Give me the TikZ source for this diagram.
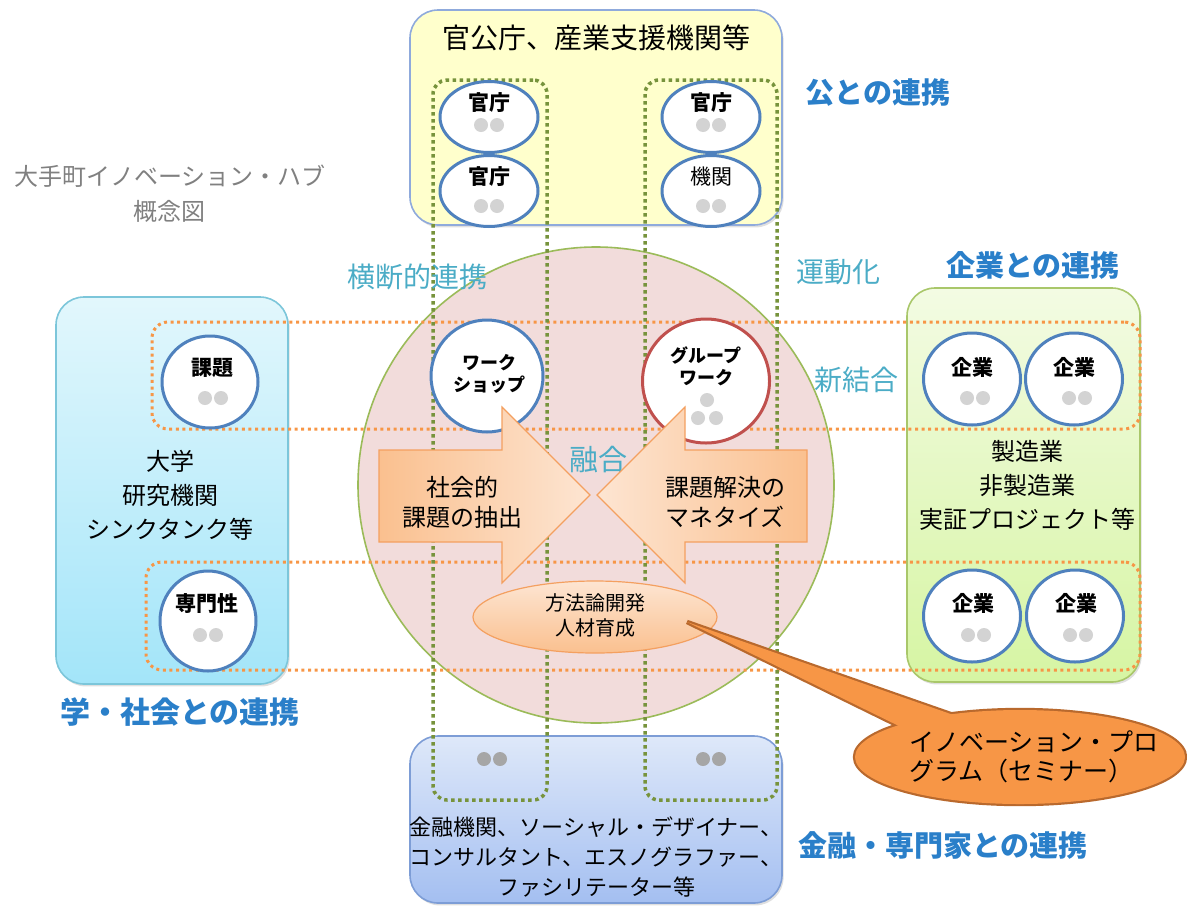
\documentclass[tikz,border=0pt]{standalone}
\usepackage{fontspec}
\setmainfont{Noto Sans CJK JP}
\usetikzlibrary{shapes.geometric,shadows}
\definecolor{topfill}{HTML}{FFFFCC}
\definecolor{topborder}{HTML}{8FAADC}
\definecolor{lefttop}{HTML}{E2F7FC}
\definecolor{leftbot}{HTML}{A3E5F9}
\definecolor{leftborder}{HTML}{7CC6DA}
\definecolor{righttop}{HTML}{F3FBE3}
\definecolor{rightbot}{HTML}{D6F5A3}
\definecolor{rightborder}{HTML}{A9C76A}
\definecolor{bottop}{HTML}{DEE8F9}
\definecolor{botbot}{HTML}{A4BFF1}
\definecolor{botborder}{HTML}{7D9DD6}
\definecolor{hubfill}{HTML}{F2DCDB}
\definecolor{hubborder}{HTML}{9BBB59}
\definecolor{dotgreen}{HTML}{77933C}
\definecolor{dotorange}{HTML}{F79646}
\definecolor{memberblue}{HTML}{4F81BD}
\definecolor{memberred}{HTML}{C0504D}
\definecolor{dotgrey}{HTML}{D3D3D3}
\definecolor{dotdark}{HTML}{A6A6A6}
\definecolor{labelblue}{HTML}{2A7FC9}
\definecolor{labelteal}{HTML}{4BACC6}
\definecolor{titlegrey}{HTML}{808080}
\definecolor{arrowdark}{HTML}{FAC08F}
\definecolor{arrowlight}{HTML}{FDE5D2}
\definecolor{arrowborder}{HTML}{F4A060}
\definecolor{calloutfill}{HTML}{F79646}
\definecolor{calloutborder}{HTML}{B9692D}
\newcommand\myfs[2]{\fontsize{#1}{#2}\selectfont}
\begin{document}
\begin{tikzpicture}[x=0.5pt,y=-0.5pt,
  box/.style={rectangle, rounded corners=14pt, line width=0.8pt, inner sep=0pt,
    drop shadow={shadow xshift=0.8pt, shadow yshift=-1.2pt, opacity=0.25}},
  gdot/.style={rectangle, draw=dotgreen, line width=1.75pt, dash pattern=on 1.75pt off 1.75pt,
    rounded corners=7pt, inner sep=0pt},
  odot/.style={rectangle, draw=dotorange, line width=1.5pt, dash pattern=on 1.5pt off 1.8pt,
    rounded corners=8pt, inner sep=0pt},
  member/.style={ellipse, draw=memberblue, line width=1.5pt, fill=white, inner sep=0pt},
  ctext/.style={inner sep=0pt, font=\myfs{10.5}{12}\bfseries},
  sidelabel/.style={inner sep=0pt, text=labelblue, font=\myfs{14.5}{17}\bfseries},
  teallabel/.style={inner sep=0pt, text=labelteal, font=\myfs{14}{17}},
  bodytext/.style={inner sep=0pt, align=center, font=\myfs{12}{17}},
  pics/dots/.style={code={
    \fill[dotgrey] (-8,0) circle[radius=3.5pt];
    \fill[dotgrey] (8,0) circle[radius=3.5pt];}},
  pics/darkdots/.style={code={
    \fill[dotdark] (-8,0) circle[radius=3.5pt];
    \fill[dotdark] (8,0) circle[radius=3.5pt];}}
]
\useasboundingbox (0,0) rectangle (1187,905);

% ---- group boxes ----
\node[box, draw=topborder, fill=topfill, minimum width=186pt, minimum height=107.5pt] (pub) at (596,117.5) {};
\node[box, draw=leftborder, top color=lefttop, bottom color=leftbot, minimum width=116pt, minimum height=193.5pt] (aca) at (172,490.5) {};
\node[box, draw=rightborder, top color=righttop, bottom color=rightbot, minimum width=116.5pt, minimum height=197pt] (ent) at (1023.5,485) {};
\node[box, draw=botborder, top color=bottop, bottom color=botbot, minimum width=186pt, minimum height=83.5pt] (fin) at (596,819.5) {};

% ---- hub circle ----
\node[circle, draw=hubborder, fill=hubfill, line width=0.8pt, minimum size=238pt, inner sep=0pt] (hub) at (596,485) {};

% ---- dotted bands ----
\node[odot, minimum width=494pt, minimum height=53.5pt] (bandA) at (646,375.5) {};
\node[odot, minimum width=497pt, minimum height=54pt] (bandB) at (643,616) {};
\node[gdot, minimum width=57pt, minimum height=360pt] (colA) at (490,440) {};
\node[gdot, minimum width=66pt, minimum height=360pt] (colB) at (711,440) {};

% ---- texts ----
\node[inner sep=0pt, font=\myfs{14}{17}] (pubt) at (596,38) {官公庁、産業支援機関等};
\node[sidelabel] (lpub) at (878,93) {公との連携};
\node[inner sep=0pt, text=titlegrey, align=center, font=\myfs{12}{17.5}] (title) at (170,194) {大手町イノベーション・ハブ\\概念図};
\node[teallabel] (lcross) at (417,277) {横断的連携};
\node[teallabel] (lmove) at (838,272) {運動化};
\node[sidelabel] (lent) at (1033,265) {企業との連携};
\node[teallabel] (lnew) at (856,380) {新結合};
\node[teallabel, font=\myfs{14.5}{17}] (lfuse) at (598,460) {融合};
\node[bodytext] (acat) at (170,495) {大学\\研究機関\\シンクタンク等};
\node[bodytext] (entt) at (1027,485) {製造業\\非製造業\\実証プロジェクト等};
\node[sidelabel, font=\myfs{15}{17}\bfseries] (laca) at (180,712) {学・社会との連携};
\node[bodytext, font=\myfs{11}{15}] (fint) at (596,857) {金融機関、ソーシャル・デザイナー、\\コンサルタント、エスノグラファー、\\ファシリテーター等};
\node[sidelabel] (lfin) at (943,845) {金融・専門家との連携};
\pic at (492,759) {darkdots};
\pic at (711,759) {darkdots};

% ---- members in public box ----
\node[member, minimum width=49pt, minimum height=35.5pt] (g1) at (489,117) {};
\node[member, minimum width=49pt, minimum height=35.5pt] (g2) at (489,191) {};
\node[member, minimum width=49pt, minimum height=35.5pt] (g3) at (711,117) {};
\node[member, minimum width=49pt, minimum height=35.5pt] (g4) at (711,191) {};
\node[ctext] (g1t) at (489,103) {官庁};
\node[ctext] (g2t) at (489,177) {官庁};
\node[ctext] (g3t) at (711,103) {官庁};
\node[ctext, font=\myfs{10.5}{12}] (g4t) at (711,177) {機関};
\pic at (489,125) {dots};
\pic at (489,206) {dots};
\pic at (711,125) {dots};
\pic at (711,206) {dots};

% ---- members in academic box ----
\node[member, minimum width=48pt, minimum height=46pt] (a1) at (210,382) {};
\node[member, minimum width=48pt, minimum height=50pt] (a2) at (208,621) {};
\node[ctext] (a1t) at (212,368) {課題};
\node[ctext] (a2t) at (207,604) {専門性};
\pic at (213,398) {dots};
\pic at (208,635) {dots};

% ---- members in enterprise box ----
\node[member, minimum width=48.5pt, minimum height=46pt] (e1) at (972,379) {};
\node[member, minimum width=48.5pt, minimum height=46pt] (e2) at (1074,379) {};
\node[member, minimum width=48.5pt, minimum height=46pt] (e3) at (972,616) {};
\node[member, minimum width=48.5pt, minimum height=46pt] (e4) at (1075,616) {};
\node[ctext] (e1t) at (972,367) {企業};
\node[ctext] (e2t) at (1074,367) {企業};
\node[ctext] (e3t) at (973,603) {企業};
\node[ctext] (e4t) at (1076,603) {企業};
\pic at (975,398) {dots};
\pic at (1077,398) {dots};
\pic at (976,635) {dots};
\pic at (1078,635) {dots};

% ---- workshop / group work ----
\node[circle, draw=memberblue, line width=1.5pt, fill=white, minimum size=56pt, inner sep=0pt] (ws) at (487,376) {};
\node[inner sep=0pt, align=center, font=\myfs{9}{11}\bfseries] (wst) at (489,374) {ワーク\\ショップ};
\node[ellipse, draw=memberred, line width=1.5pt, fill=white, minimum width=63.5pt, minimum height=62pt, inner sep=0pt] (gw) at (706,381) {};
\node[inner sep=0pt, align=center, font=\myfs{9}{11}\bfseries] (gwt) at (706,366) {グループ\\ワーク};
\fill[dotgrey] (707,400) circle[radius=3.5pt];
\fill[dotgrey] (698,418) circle[radius=3.5pt];
\fill[dotgrey] (716,418) circle[radius=3.5pt];

% ---- arrows ----
\path[draw=arrowborder, line width=0.6pt, left color=arrowdark, right color=arrowlight]
  (379,450) -- (502,450) -- (502,407) -- (590,495) -- (502,583) -- (502,542) -- (379,542) -- cycle;
\path[draw=arrowborder, line width=0.6pt, left color=arrowlight, right color=arrowdark]
  (807,450) -- (685,450) -- (685,407) -- (597,495) -- (685,583) -- (685,542) -- (807,542) -- cycle;
\node[bodytext, font=\myfs{12}{15}] (arL) at (462,502) {社会的\\課題の抽出};
\node[bodytext, font=\myfs{12}{15}] (arR) at (725,502) {課題解決の\\マネタイズ};

% ---- method ellipse ----
\node[ellipse, draw=arrowborder, line width=0.6pt, top color=arrowlight, bottom color=arrowdark,
  minimum width=122pt, minimum height=36pt, inner sep=0pt] (meth) at (595,617) {};
\node[bodytext, font=\myfs{10}{12.5}] (metht) at (595,615) {方法論開発\\人材育成};

% ---- callout ----
\node[ellipse, minimum width=165pt, minimum height=47pt, inner sep=0pt] (call) at (1020,757) {};
\coordinate (tip) at (687,622);
\path[draw=calloutborder, line width=2.2pt, fill=calloutfill]
  (tip) -- ([shift={(-115,-28)}]call.center) -- ([shift={(-55,-38)}]call.center) -- cycle;
\path[draw=calloutborder, line width=2.2pt, fill=calloutfill] (call.center) ellipse[x radius=82.5pt, y radius=23.5pt];
\path[fill=calloutfill]
  (tip) -- ([shift={(-115,-28)}]call.center) -- ([shift={(-55,-38)}]call.center) -- cycle;
\path[fill=calloutfill] (call.center) ellipse[x radius=82.5pt, y radius=23.5pt];
\node[inner sep=0pt, align=left, font=\myfs{12.5}{14.5}] (callt) at (1034,757) {イノベーション・プロ\\グラム（セミナー）};
\end{tikzpicture}
\end{document}
